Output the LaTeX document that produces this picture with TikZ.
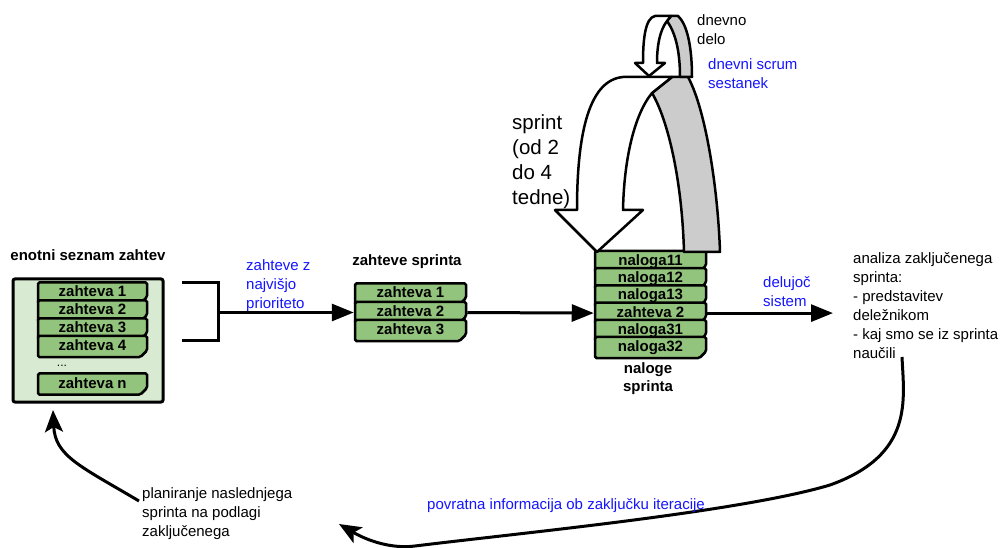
\documentclass[tikz,border=0pt]{standalone}
\usepackage{fontspec}
\setmainfont{Liberation Sans}
\usetikzlibrary{arrows.meta,shapes.misc}
\definecolor{cardgreen}{RGB}{147,196,125}
\definecolor{boxgreen}{RGB}{217,234,211}
\definecolor{ribbon}{RGB}{204,204,204}
\definecolor{txtblue}{RGB}{20,20,255}
\begin{document}
\begin{tikzpicture}[x=1pt,y=-1pt,
  line/.style={line width=3pt},
  tip/.style={-{Triangle[length=22pt,width=17pt]}},
  ctip/.style={-{Stealth[length=22pt,width=18pt,inset=5pt]}},
  card/.style={chamfered rectangle, chamfered rectangle corners=south east,
    chamfered rectangle xsep=3pt, rounded corners=1.5pt, draw, line width=2.5pt,
    fill=cardgreen, minimum height=17pt, inner sep=0pt,
    text height=11pt, text depth=3pt, font=\fontsize{15}{17}\selectfont\bfseries},
  lcard/.style={card, minimum width=109pt},
  scard/.style={card, minimum width=111pt},
  txt/.style={font=\fontsize{15}{19}\selectfont, inner sep=0pt, align=left, anchor=north west},
  btxt/.style={font=\fontsize{15}{18}\selectfont\bfseries, inner sep=0pt, align=center},
  rib/.style={line width=2.5pt, line join=round}]
\useasboundingbox (0,0) rectangle (1002,548);

% ---- product backlog ----
\node[btxt, anchor=base] (listtitle) at (88,261) {enotni seznam zahtev};
\node[draw, line width=3pt, fill=boxgreen, rounded corners=2pt, minimum width=150pt,
      minimum height=123pt, inner sep=0pt] (list) at (88,340.5) {};
\node[lcard] (r1) at (92.5,293) {zahteva 1};
\node[lcard] (r2) at (92.5,311) {zahteva 2};
\node[lcard] (r3) at (92.5,329) {zahteva 3};
\node[lcard] (r4) at (92.5,346.5) {zahteva 4};
\node[font=\fontsize{12}{14}\selectfont, inner sep=0pt] (dots) at (62,366) {...};
\node[lcard] (rn) at (92.5,384) {zahteva n};

% ---- bracket ----
\coordinate (bt) at (182,283);
\coordinate (btr) at (218,283);
\coordinate (bbr) at (218,340);
\coordinate (bb) at (182,340);
\coordinate (bm) at (218,312.5);
\draw[line] (bt) -- (btr) -- (bbr) -- (bb);

% ---- sprint backlog ----
\node[btxt, anchor=base] (stitle) at (407,266) {zahteve sprinta};
\node[scard] (s1) at (410.5,294) {zahteva 1};
\node[scard] (s2) at (410.5,312.5) {zahteva 2};
\node[scard] (s3) at (410.5,330.5) {zahteva 3};
\draw[line, tip] (bm) -- (s2.west);
\node[txt, text=txtblue] (prio) at (246,259) {zahteve z\\najvišjo\\prioriteto};

% ---- sprint tasks ----
\node[scard] (n1) at (650.5,261.5) {naloga11};
\node[scard] (n2) at (650.5,278.7) {naloga12};
\node[scard] (n3) at (650.5,295.9) {naloga13};
\node[scard] (n4) at (650.5,313.1) {zahteva 2};
\node[scard] (n5) at (650.5,330.3) {naloga31};
\node[scard] (n6) at (650.5,347.5) {naloga32};
\node[btxt, anchor=north] (ntitle) at (648,362) {naloge\\sprinta};
\draw[line, tip] (s2.east) -- (n4.west);

\coordinate (dsend) at (833,313.1);
\draw[line, tip] (n4.east) -- (dsend);
\node[txt, text=txtblue] (delu) at (763,276) {delujoč\\sistem};

% ---- review ----
\node[txt] (review) at (853,252) {analiza zaključenega\\sprinta:\\- predstavitev\\deležnikom\\- kaj smo se iz sprinta\\naučili};
\coordinate (fbstart) at (902,357);
\coordinate (fbend) at (339,524);
\draw[line, ctip] (fbstart) .. controls (904,400) and (914,455) .. (830,485)
   .. controls (740,512) and (520,533) .. (415,546)
   .. controls (392,549) and (368,541) .. (fbend);
\node[txt, anchor=base west, text=txtblue] (fb) at (427,509) {povratna informacija ob zaključku iteracije};

% ---- planning ----
\node[txt] (plan) at (142,487) {planiranje naslednjega\\sprinta na podlagi\\zaključenega};
\coordinate (plstart) at (139,501);
\coordinate (plend) at (53,410);
\draw[line, ctip] (plstart) .. controls (80,466) and (55,456) .. (plend);

% ---- big sprint arrow ----
\draw[rib, fill=ribbon] (652,93) -- (672,77) -- (688,77)
   .. controls (706,110) and (718,190) .. (720,252) -- (684,252)
   .. controls (682,180) and (668,120) .. cycle;
\draw[rib, fill=white] (577,210) -- (555,210) -- (597,252) -- (643,210) -- (623,210)
   .. controls (624,160) and (634,115) .. (652,93) -- (672,77) -- (623,77)
   .. controls (590,80) and (577,130) .. cycle;

% ---- small daily arrow ----
\draw[rib, fill=ribbon] (667,21) -- (671,16) -- (678,16)
   .. controls (688,25) and (692,50) .. (692,77) -- (680,77)
   .. controls (680,50) and (675,32) .. cycle;
\draw[rib, fill=white] (643,63) -- (635,63) -- (649,76) -- (665,63) -- (657,63)
   .. controls (657,45) and (660,30) .. (667,21) -- (671,16) -- (655,16)
   .. controls (645,18) and (643,40) .. cycle;

\node[txt] (daily) at (697,14) {dnevno\\delo};
\node[txt, text=txtblue] (scrum) at (708,58) {dnevni scrum\\sestanek};
\node[txt, font=\fontsize{20.5}{25}\selectfont] (sprint) at (512,114) {sprint\\(od 2\\do 4\\tedne)};
\end{tikzpicture}
\end{document}
